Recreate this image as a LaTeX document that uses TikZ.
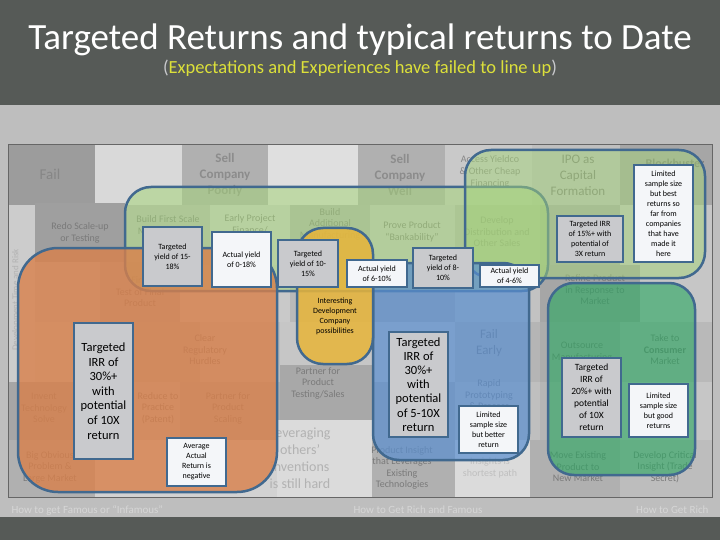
\documentclass[tikz,border=0pt]{standalone}
\usepackage{fontspec}
\setmainfont{Carlito}
\definecolor{topband}{HTML}{565A57}
\definecolor{midbg}{HTML}{BEBEBE}
\definecolor{bordblue}{HTML}{41698F}
\definecolor{lblgrey}{HTML}{C9CACD}
\definecolor{lblwhite}{HTML}{F4F6F9}
\definecolor{fadetxt}{HTML}{7A7A7A}
\definecolor{subyellow}{HTML}{DCE03A}
\definecolor{ovorange}{HTML}{D9804A}
\definecolor{ovgreen}{HTML}{A5D47A}
\definecolor{ovyellow}{HTML}{E8B53A}
\definecolor{ovblue}{HTML}{5A8FD0}
\definecolor{ovdkgreen}{HTML}{2CA862}
\definecolor{botlbl}{HTML}{D6D6D6}
\begin{document}
\begin{tikzpicture}[x=1pt,y=-1pt,
  ovl/.style={draw=bordblue, line width=2.5pt, rounded corners=26pt},
  lbl/.style={draw=bordblue, line width=2.2pt, align=center, inner sep=1pt, text=black, font=\fontsize{8}{10}\selectfont},
  gl/.style={lbl, fill=lblgrey},
  wl/.style={lbl, fill=lblwhite},
  tt/.style={align=center, text=fadetxt, font=\fontsize{10}{11.5}\selectfont},
  big/.style={font=\fontsize{12.5}{14.6}\selectfont}
]
\useasboundingbox (0,0) rectangle (720,540);
% backgrounds
\fill[midbg] (0,0) rectangle (720,540);
\fill[topband] (0,0) rectangle (720,105);
\fill[topband] (0,517) rectangle (720,540);
\node[text=white, font=\fontsize{37}{42}\selectfont] (title) at (360,40) {Targeted Returns and typical returns to Date};
\node[text=subyellow, font=\fontsize{18.5}{21}\selectfont] (subtitle) at (360,68) {\textcolor{lblgrey}{(}Expectations and Experiences have failed to line up\textcolor{lblgrey}{)}};
% frame and tiles
\fill[gray!45] (8,145) rectangle (712,497);
% row A
\fill[gray!78] (8,145) rectangle (95,205);
\fill[gray!30] (95,145) rectangle (182,205);
\fill[gray!62] (182,145) rectangle (268,205);
\fill[gray!25] (268,145) rectangle (358,205);
\fill[gray!62] (358,145) rectangle (445,205);
\fill[gray!42] (445,145) rectangle (532,205);
\fill[gray!50] (532,145) rectangle (620,205);
\fill[gray!70] (620,145) rectangle (712,205);
% row B
\fill[gray!40] (8,205) rectangle (35,440);
\fill[gray!75] (35,203) rectangle (125,262);
\fill[gray!55] (125,205) rectangle (210,265);
\fill[gray!38] (210,205) rectangle (290,265);
\fill[gray!60] (290,205) rectangle (370,265);
\fill[gray!45] (370,205) rectangle (455,265);
\fill[gray!58] (455,205) rectangle (540,265);
\fill[gray!66] (540,205) rectangle (620,265);
\fill[gray!45] (620,205) rectangle (712,265);
% row C
\fill[gray!50] (35,262) rectangle (100,322);
\fill[gray!62] (100,262) rectangle (180,322);
\fill[gray!42] (180,265) rectangle (290,322);
\fill[gray!55] (290,265) rectangle (372,322);
\fill[gray!62] (372,265) rectangle (455,322);
\fill[gray!48] (455,265) rectangle (540,322);
\fill[gray!70] (540,265) rectangle (640,322);
\fill[gray!45] (640,265) rectangle (712,322);
% row D
\fill[gray!45] (35,322) rectangle (125,382);
\fill[gray!60] (125,322) rectangle (200,382);
\fill[gray!52] (200,322) rectangle (280,382);
\fill[gray!68] (280,365) rectangle (372,420);
\fill[gray!45] (372,322) rectangle (455,382);
\fill[gray!58] (455,322) rectangle (540,382);
\fill[gray!65] (540,322) rectangle (620,382);
\fill[gray!55] (620,322) rectangle (712,382);
% row E
\fill[gray!70] (8,382) rectangle (95,440);
\fill[gray!52] (95,382) rectangle (180,440);
\fill[gray!62] (180,382) rectangle (280,440);
\fill[gray!65] (372,382) rectangle (455,420);
\fill[gray!50] (455,382) rectangle (540,440);
\fill[gray!58] (540,382) rectangle (620,440);
\fill[gray!45] (620,382) rectangle (712,440);
% row F
\fill[gray!62] (8,440) rectangle (95,497);
\fill[gray!35] (95,440) rectangle (277,497);
\fill[gray!28] (277,420) rectangle (372,497);
\fill[gray!62] (372,420) rectangle (455,497);
\fill[gray!28] (455,440) rectangle (540,497);
\fill[gray!62] (530,440) rectangle (620,497);
\fill[gray!52] (620,440) rectangle (712,497);
\draw[gray!80!black, line width=1pt] (8,145) rectangle (712,497);
% faded tile texts
\node[tt, font=\fontsize{15}{17}\selectfont, text=gray!95] (tFail) at (50,174) {Fail};
\node[tt, font=\fontsize{13}{16}\selectfont\bfseries, text=gray!90] (tPoor) at (225,175) {Sell\\Company\\Poorly};
\node[tt, font=\fontsize{13}{16}\selectfont\bfseries, text=gray!90] (tWell) at (400,175) {Sell\\Company\\Well};
\node[tt, font=\fontsize{10}{12}\selectfont, text=gray!95] (tYield) at (490,172) {Access Yieldco\\\& Other Cheap\\Financing};
\node[tt, font=\fontsize{13}{16}\selectfont] (tIPO) at (578,175) {IPO as\\Capital\\Formation};
\node[tt, font=\fontsize{12}{14}\selectfont\bfseries] (tBlock) at (675,163) {Blockbuster};
\node[tt] (tRedo) at (80,233) {Redo Scale-up\\or Testing};
\node[tt] (tBuild1) at (168,226) {Build First Scale\\Manufacturing};
\node[tt] (tEarly) at (250,224) {Early Project\\Finance/};
\node[tt] (tBuild2) at (330,224) {Build\\Additional\\Manufacturing};
\node[tt] (tProve) at (412,232) {Prove Product\\``Bankability''};
\node[tt] (tDist) at (497,232) {Develop\\Distribution and\\Other Sales};
\node[tt] (tFirst) at (140,292) {First\\Test of Final\\Product};
\node[tt] (tRefine) at (595,290) {Refine Product\\in Response to\\Market};
\node[tt] (tClear) at (205,350) {Clear\\Regulatory\\Hurdles};
\node[tt] (tPartT) at (318,383) {Partner for\\Product\\Testing/Sales};
\node[tt, font=\fontsize{13}{16}\selectfont] (tFailE) at (489,343) {Fail\\Early};
\node[tt] (tRapid) at (489,395) {Rapid\\Prototyping\\\& Process};
\node[tt] (tOut) at (582,352) {Outsource\\Manufacturing};
\node[tt, font=\fontsize{10}{11.5}\selectfont] (tTake) at (665,350) {Take to\\\textbf{Consumer}\\Market};
\node[tt] (tInvent) at (44,408) {Invent\\Technology\\Solve};
\node[tt] (tReduce) at (158,408) {Reduce to\\Practice\\(Patent)};
\node[tt] (tPartS) at (228,408) {Partner for\\Product\\Scaling};
\node[tt] (tBig) at (50,467) {Big Obvious\\Problem \&\\Large Market};
\node[tt, font=\fontsize{14}{17}\selectfont, text=gray!60] (tLev) at (300,458) {Leveraging\\others'\\inventions\\is still hard};
\node[tt] (tInsight) at (402,468) {Product Insight\\that Leverages\\Existing\\Technologies};
\node[tt, text=gray!50] (tShort) at (490,468) {Insights is\\shortest path};
\node[tt] (tMove) at (578,467) {Move Existing\\Product to\\New Market};
\node[tt] (tCrit) at (665,467) {Develop Critical\\Insight (Trade\\Secret)};
\node[tt, rotate=90, font=\fontsize{9}{11}\selectfont, text=gray!60] (tRisk) at (16,300) {Development Time and Risk};
% bottom labels
\node[text=botlbl, font=\fontsize{11}{13}\selectfont, anchor=west] (bl1) at (8,510) {How to get Famous or ``Infamous''};
\node[text=botlbl, font=\fontsize{11}{13}\selectfont] (bl2) at (418,510) {How to Get Rich and Famous};
\node[text=botlbl, font=\fontsize{11}{13}\selectfont, anchor=east] (bl3) at (712,510) {How to Get Rich};
% overlays
\draw[ovl, fill=ovgreen, fill opacity=0.55] (125,187) rectangle (548,291);
\draw[ovl, fill=ovgreen, fill opacity=0.5] (465,150) rectangle (705,278);
\draw[ovl, fill=ovdkgreen, fill opacity=0.62] (548,283) rectangle (695,475);
\draw[ovl, fill=ovblue, fill opacity=0.7] (373,263) rectangle (529,460);
\draw[ovl, fill=ovyellow, fill opacity=0.85] (297,228) rectangle (373,364);
\draw[ovl, rounded corners=40pt, fill=ovorange, fill opacity=0.8] (18,248) rectangle (277,492);
% labels
\node[gl, minimum width=59pt, minimum height=59pt] (l1) at (172.5,256.5) {Targeted\\yield of 15-\\18\%};
\node[wl, minimum width=59pt, minimum height=55pt] (l2) at (241.5,259.5) {Actual yield\\of 0-18\%};
\node[gl, minimum width=60pt, minimum height=47pt] (l3) at (308,263.5) {Targeted\\yield of 10-\\15\%};
\node[wl, minimum width=60pt, minimum height=27pt] (l4) at (377,273.5) {Actual yield\\of 6-10\%};
\node[gl, minimum width=60pt, minimum height=40pt] (l5) at (443,268) {Targeted\\yield of 8-\\10\%};
\node[wl, minimum width=59pt, minimum height=22pt] (l6) at (509.5,276) {Actual yield\\of 4-6\%};
\node[gl, minimum width=66pt, minimum height=46pt] (l7) at (590,239) {Targeted IRR\\of 15\%+ with\\potential of\\3X return};
\node[wl, minimum width=59pt, minimum height=97pt] (l8) at (663.5,213.5) {Limited\\sample size\\but best\\returns so\\far from\\companies\\that have\\made it\\here};
\node[align=center, text=black, font=\fontsize{8}{10}\selectfont] (l9) at (335,316) {Interesting\\Development\\Company\\possibilities};
\node[gl, big, minimum width=59pt, minimum height=136pt] (l10) at (103.5,391) {Targeted\\IRR of\\30\%+\\with\\potential\\of 10X\\return};
\node[wl, minimum width=59pt, minimum height=48pt] (l11) at (196.5,462) {Average\\Actual\\Return is\\negative};
\node[gl, big, font=\fontsize{12.5}{14.2}\selectfont, minimum width=59pt, minimum height=105pt] (l12) at (418.5,384.5) {Targeted\\IRR of\\30\%+\\with\\potential\\of 5-10X\\return};
\node[wl, minimum width=59pt, minimum height=47pt] (l13) at (488.5,429.5) {Limited\\sample size\\but better\\return};
\node[gl, font=\fontsize{9.5}{12}\selectfont, minimum width=59pt, minimum height=79pt] (l14) at (591.5,397.5) {Targeted\\IRR of\\20\%+ with\\potential\\of 10X\\return};
\node[wl, minimum width=59pt, minimum height=53pt] (l15) at (658.5,410.5) {Limited\\sample size\\but good\\returns};
\end{tikzpicture}
\end{document}
